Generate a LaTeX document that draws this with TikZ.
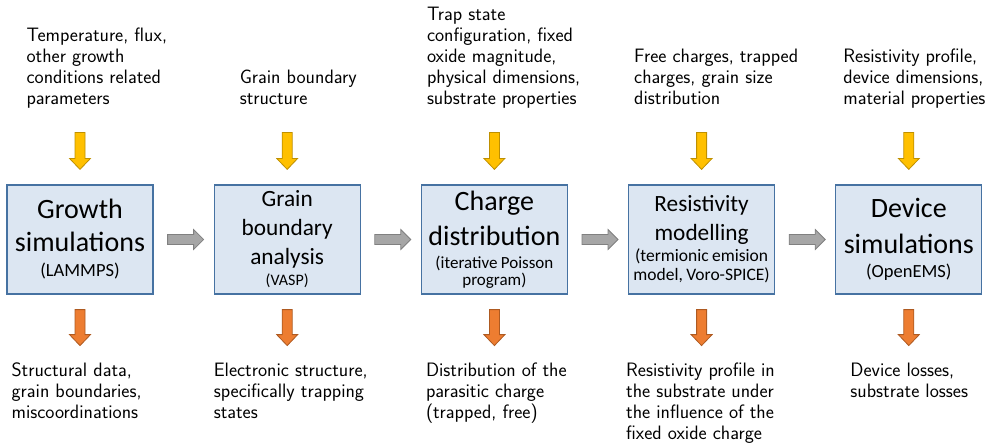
\documentclass[tikz,border=0pt]{standalone}
\usepackage{fontspec}
\newfontfamily\carlito{Carlito}
\usepackage{tikz}
\usetikzlibrary{positioning,calc}

\definecolor{stagefill}{RGB}{220,230,242}
\definecolor{stageline}{RGB}{70,114,162}
\definecolor{flowgray}{RGB}{166,166,166}
\definecolor{flowgrayline}{RGB}{128,128,128}
\definecolor{inyellow}{RGB}{255,192,0}
\definecolor{inyellowline}{RGB}{191,144,0}
\definecolor{outorange}{RGB}{237,125,49}
\definecolor{outorangeline}{RGB}{174,90,33}
\newcommand{\boxfont}[2]{\carlito\fontsize{#1}{#2}\selectfont}

\begin{document}
\begin{tikzpicture}[
  x=1pt, y=-1pt,
  node distance=60pt,
  stage/.style={
    draw=stageline, fill=stagefill, line width=1.2pt,
    text width=146pt, minimum height=109pt,
    inner xsep=0pt, inner ysep=0pt, align=center
  },
  note/.style={align=left, inner sep=0pt, font=\sffamily\fontsize{19.4}{21}\selectfont},
  notein/.style={note, execute at end node=\strut},
  noteout/.style={note, execute at begin node=\strut},
  harrow/.style={
    fill=flowgray, draw=flowgrayline, line width=0.8pt,
    to path={let \p1=(\tikztostart), \p2=(\tikztotarget) in
      (\x1,\y1+5pt) -- (\x2-10pt,\y1+5pt) -- (\x2-10pt,\y1+10pt) -- (\x2,\y1)
      -- (\x2-10pt,\y1-10pt) -- (\x2-10pt,\y1-5pt) -- (\x1,\y1-5pt) -- cycle}
  },
  varrow/.style={
    line width=0.8pt,
    to path={let \p1=(\tikztostart), \p2=(\tikztotarget) in
      (\x1-5pt,\y1) -- (\x1-5pt,\y2+11pt) -- (\x1-10.5pt,\y2+11pt) -- (\x1,\y2)
      -- (\x1+10.5pt,\y2+11pt) -- (\x1+5pt,\y2+11pt) -- (\x1+5pt,\y1) -- cycle}
  },
  inarrow/.style={varrow, fill=inyellow, draw=inyellowline},
  outarrow/.style={varrow, fill=outorange, draw=outorangeline}
]
  \useasboundingbox (0,0) rectangle (988,447);

  % simulation chain
  \node[stage] (g1) at (80,239.5) {{\boxfont{28}{33}Growth\\simulations\par}\vspace{6pt}{\boxfont{18.5}{19}(LAMMPS)\par}};
  \node[stage, right=of g1] (g2) {{\boxfont{23.3}{29}Grain\\boundary\\analysis\par}\vspace{2pt}{\boxfont{16}{19}(VASP)\par}};
  \node[stage, right=of g2] (g3) {{\boxfont{28}{35}Charge\\distribution\par}\vspace{6pt}{\boxfont{17}{17}(iterative Poisson\\program)\par}};
  \node[stage, right=of g3] (g4) {{\boxfont{23.3}{29}Resistivity\\modelling\par}\vspace{2pt}{\boxfont{17.5}{19}(termionic emision\\model, Voro-SPICE)\par}};
  \node[stage, right=of g4] (g5) {{\boxfont{28}{36}Device\\simulations\par}\vspace{5pt}{\boxfont{18.5}{19}(OpenEMS)\par}};

  % inputs
  \node[notein, above right=73pt and 20pt of g1.north west] (in1) {Temperature, flux,\\other growth\\conditions related\\parameters};
  \node[notein, above right=73pt and 26pt of g2.north west] (in2) {Grain boundary\\structure};
  \node[notein, above right=73pt and 6pt of g3.north west] (in3) {Trap state\\configuration, fixed\\oxide magnitude,\\physical dimensions,\\substrate properties};
  \node[notein, above right=73pt and 6pt of g4.north west] (in4) {Free charges, trapped\\charges, grain size\\distribution};
  \node[notein, above right=73pt and 8pt of g5.north west] (in5) {Resistivity profile,\\device dimensions,\\material properties};

  % outputs
  \node[noteout, below right=68pt and 5pt of g1.south west] (out1) {Structural data,\\grain boundaries,\\miscoordinations};
  \node[noteout, below right=68pt and 0pt of g2.south west] (out2) {Electronic structure,\\specifically trapping\\states};
  \node[noteout, below right=68pt and 5pt of g3.south west] (out3) {Distribution of the\\parasitic charge\\(trapped, free)};
  \node[noteout, below right=68pt and -2pt of g4.south west] (out4) {Resistivity profile in\\the substrate under\\the influence of the\\fixed oxide charge};
  \node[noteout, below right=68pt and 15pt of g5.south west] (out5) {Device losses,\\substrate losses};

  \draw[harrow] ([xshift=14pt]g1.east) to ([xshift=-10pt]g2.west);
  \draw[harrow] ([xshift=14pt]g2.east) to ([xshift=-10pt]g3.west);
  \draw[harrow] ([xshift=14pt]g3.east) to ([xshift=-10pt]g4.west);
  \draw[harrow] ([xshift=14pt]g4.east) to ([xshift=-10pt]g5.west);

  \foreach \i in {1,...,5} {
    \draw[inarrow] ($(in\i.south -| g\i.north)+(0,21)$) to ([yshift=15pt]g\i.north);
    \draw[outarrow] ([yshift=-15pt]g\i.south) to ($(out\i.north -| g\i.south)+(0,-17)$);
  }
\end{tikzpicture}
\end{document}
